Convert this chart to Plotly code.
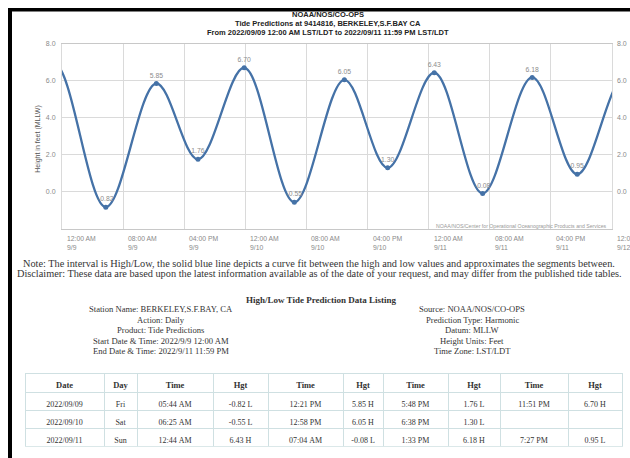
import plotly.graph_objects as go

W, H = 630, 458


def px(x):
    return x / W


def py(y):
    return 1 - y / H


# ---- data: high/low tide extremes (first two / last two are estimated extremes outside the window)
times = ["2022-09-08 16:58", "2022-09-08 22:58",
         "2022-09-09 05:44", "2022-09-09 12:21", "2022-09-09 17:48", "2022-09-09 23:51",
         "2022-09-10 06:25", "2022-09-10 12:58", "2022-09-10 18:38",
         "2022-09-11 00:44", "2022-09-11 07:04", "2022-09-11 13:33", "2022-09-11 19:27",
         "2022-09-12 01:35", "2022-09-12 07:45"]
heights = [2.20, 6.95,
           -0.82, 5.85, 1.76, 6.70,
           -0.55, 6.05, 1.30,
           6.43, -0.08, 6.18, 0.95,
           6.15, 0.40]
point_labels = ["", "",
                "-0.82", "5.85", "1.76", "6.70",
                "-0.55", "6.05", "1.30",
                "6.43", "-0.08", "6.18", "0.95",
                "", ""]

tick_times = ["2022-09-09 00:00", "2022-09-09 08:00", "2022-09-09 16:00",
              "2022-09-10 00:00", "2022-09-10 08:00", "2022-09-10 16:00",
              "2022-09-11 00:00", "2022-09-11 08:00", "2022-09-11 16:00",
              "2022-09-12 00:00"]
tick_hours = ["12:00 AM", "08:00 AM", "04:00 PM", "12:00 AM", "08:00 AM", "04:00 PM",
              "12:00 AM", "08:00 AM", "04:00 PM", "12:00 AM"]
tick_days = ["9/9", "9/9", "9/9", "9/10", "9/10", "9/10", "9/11", "9/11", "9/11", "9/12"]
y_ticks = [0, 2, 4, 6, 8]
y_range = [-2, 8]

title_lines = ["NOAA/NOS/CO-OPS",
               "Tide Predictions at 9414816, BERKELEY,S.F.BAY CA",
               "From 2022/09/09 12:00 AM LST/LDT to 2022/09/11 11:59 PM LST/LDT"]
note_lines = ["Note: The interval is High/Low, the solid blue line depicts a curve fit between the high and low values and approximates the segments between.",
              "Disclaimer: These data are based upon the latest information available as of the date of your request, and may differ from the published tide tables."]
listing_title = "High/Low Tide Prediction Data Listing"
left_info = ["Station Name: BERKELEY,S.F.BAY, CA", "Action: Daily", "Product: Tide Predictions",
             "Start Date & Time: 2022/9/9 12:00 AM", "End Date & Time: 2022/9/11 11:59 PM"]
right_info = ["Source: NOAA/NOS/CO-OPS", "Prediction Type: Harmonic", "Datum: MLLW",
              "Height Units: Feet", "Time Zone: LST/LDT"]

table_header = ["Date", "Day", "Time", "Hgt", "Time", "Hgt", "Time", "Hgt", "Time", "Hgt"]
dates = ["2022/09/09", "2022/09/10", "2022/09/11"]
days = ["Fri", "Sat", "Sun"]
time1 = ["05:44 AM", "06:25 AM", "12:44 AM"]
hgt1 = ["-0.82 L", "-0.55 L", "6.43 H"]
time2 = ["12:21 PM", "12:58 PM", "07:04 AM"]
hgt2 = ["5.85 H", "6.05 H", "-0.08 L"]
time3 = ["5:48 PM", "6:38 PM", "1:33 PM"]
hgt3 = ["1.76 L", "1.30 L", "6.18 H"]
time4 = ["11:51 PM", "", "7:27 PM"]
hgt4 = ["6.70 H", "", "0.95 L"]

# ---- style
BLUE = "#4572A7"
GRID = "#dadada"
SANS = "Liberation Sans, Arial, sans-serif"
SERIF = "Liberation Serif, Times New Roman, serif"

plot_x0, plot_x1 = 62, 612
plot_y0, plot_y1 = 40, 227

fig = go.Figure()

fig.add_trace(go.Scatter(
    x=times, y=heights, mode="lines+markers+text",
    line=dict(color=BLUE, width=2.3, shape="spline", smoothing=1.0),
    marker=dict(color=BLUE, size=5),
    text=point_labels, textposition="top center",
    textfont=dict(family=SANS, size=6.8, color="#8c8c8c"),
    hoverinfo="skip", showlegend=False, cliponaxis=True,
))
# invisible trace so the right-hand axis is drawn
fig.add_trace(go.Scatter(
    x=times, y=heights, yaxis="y2", mode="markers",
    marker=dict(opacity=0), hoverinfo="skip", showlegend=False,
))

axis_font = dict(family=SANS, size=7, color="#8a8a8a")

fig.update_layout(
    width=W, height=H,
    margin=dict(l=0, r=0, t=0, b=0),
    paper_bgcolor="white", plot_bgcolor="white",
    xaxis=dict(
        domain=[px(plot_x0), px(plot_x1)],
        range=[tick_times[0], tick_times[-1]],
        type="date",
        tickvals=tick_times, showticklabels=False,
        showgrid=True, gridcolor=GRID, gridwidth=1,
        showline=True, linecolor="#c8c8c8", linewidth=1, mirror=True,
        zeroline=False, fixedrange=True,
    ),
    yaxis=dict(
        domain=[py(plot_y1), py(plot_y0)],
        range=y_range, tickvals=y_ticks, tickformat=".1f",
        tickfont=axis_font, ticks="", ticklabelstandoff=4,
        showgrid=True, gridcolor=GRID, gridwidth=1,
        showline=True, linecolor=GRID, mirror=True,
        zeroline=False, fixedrange=True,
    ),
    yaxis2=dict(
        overlaying="y", side="right", anchor="x",
        range=y_range, tickvals=y_ticks, tickformat=".1f",
        tickfont=axis_font, ticks="", ticklabelstandoff=4,
        showgrid=False, zeroline=False, fixedrange=True,
    ),
)

ann = []
# y-axis title
ann.append(dict(text="Height in feet (MLLW)", x=px(38), y=py(136), xref="paper", yref="paper",
                showarrow=False, textangle=-90, xanchor="center", yanchor="middle",
                font=dict(family=SANS, size=7, color="#555555")))
# x tick labels (left aligned at each gridline)
for t, hh, dd in zip(tick_times, tick_hours, tick_days):
    ann.append(dict(text=hh, x=t, y=py(236.5), xref="x", yref="paper", showarrow=False,
                    xanchor="left", yanchor="middle", xshift=3,
                    font=dict(family=SANS, size=6.8, color="#8a8a8a")))
    ann.append(dict(text=dd, x=t, y=py(245.5), xref="x", yref="paper", showarrow=False,
                    xanchor="left", yanchor="middle", xshift=3,
                    font=dict(family=SANS, size=6.8, color="#8a8a8a")))
# titles
for i, line in enumerate(title_lines):
    ann.append(dict(text="<b>%s</b>" % line, x=px(328), y=py(10.5 + 9.3 * i), xref="paper", yref="paper",
                    showarrow=False, xanchor="center", yanchor="middle",
                    font=dict(family=SANS, size=7.5, color="#222222")))
# credits
ann.append(dict(text="NOAA/NOS/Center for Operational Oceanographic Products and Services",
                x=px(609), y=py(224), xref="paper", yref="paper", showarrow=False,
                xanchor="right", yanchor="middle",
                font=dict(family=SANS, size=5.2, color="#999999")))
# notes
for i, line in enumerate(note_lines):
    ann.append(dict(text=line, x=px(319), y=py(261.5 + 10 * i), xref="paper", yref="paper",
                    showarrow=False, xanchor="center", yanchor="middle",
                    font=dict(family=SERIF, size=10.3, color="#333333")))
# listing header
ann.append(dict(text="<b>%s</b>" % listing_title, x=px(321), y=py(298.5), xref="paper", yref="paper",
                showarrow=False, xanchor="center", yanchor="middle",
                font=dict(family=SERIF, size=9, color="#333333")))
for i, (l, r) in enumerate(zip(left_info, right_info)):
    yy = py(308 + 10.5 * i)
    ann.append(dict(text=l, x=px(161), y=yy, xref="paper", yref="paper", showarrow=False,
                    xanchor="center", yanchor="middle",
                    font=dict(family=SERIF, size=8.6, color="#333333")))
    ann.append(dict(text=r, x=px(472), y=yy, xref="paper", yref="paper", showarrow=False,
                    xanchor="center", yanchor="middle",
                    font=dict(family=SERIF, size=8.6, color="#333333")))

fig.update_layout(annotations=ann)


def nb(col):
    # non-breaking spaces keep each cell on one line
    return [s.replace(" ", "\u00a0") for s in col]


# table
TBL_LINE = "#cfe0e2"
fig.add_trace(go.Table(
    domain=dict(x=[px(25), px(622)], y=[py(447), py(373)]),
    columnwidth=[79, 33, 76, 55, 75, 40, 65, 52, 68, 54],
    header=dict(values=table_header,
                align="center", height=19,
                line=dict(color=TBL_LINE, width=1), fill=dict(color="white"),
                font=dict(family=SERIF, size=8.5, color="#333333", weight="bold")),
    cells=dict(values=[nb(c) for c in [dates, days, time1, hgt1, time2, hgt2, time3, hgt3, time4, hgt4]],
               align="center", height=18,
               line=dict(color=TBL_LINE, width=1), fill=dict(color="white"),
               font=dict(family=SERIF, size=8, color="#333333")),
))

# black frame (left and top)
fig.update_layout(shapes=[
    dict(type="rect", xref="paper", yref="paper", x0=px(8), x1=px(12), y0=0, y1=py(4),
         fillcolor="black", line=dict(width=0), layer="above"),
    dict(type="rect", xref="paper", yref="paper", x0=px(8), x1=1, y0=py(7.5), y1=py(4),
         fillcolor="black", line=dict(width=0), layer="above"),
])

fig.write_html("out.html", config={"displayModeBar": False},
               post_script="document.body.style.margin='0';document.body.style.padding='0';")
